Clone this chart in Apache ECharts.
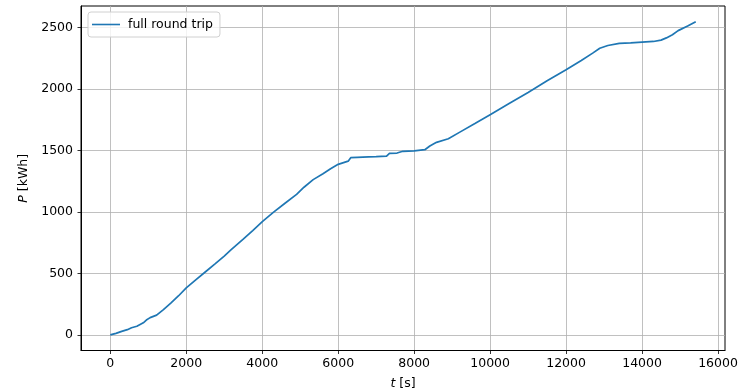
<!DOCTYPE html>
<html>
<head>
<meta charset="utf-8">
<script src="https://cdn.jsdelivr.net/npm/echarts@6/dist/echarts.min.js"></script>
<style>
  html, body { margin: 0; padding: 0; background: #fff; }
  #chart { width: 748px; height: 391px; }
</style>
</head>
<body>
<div id="chart"></div>
<script>
// Elapsed time [s] and cumulative energy [kWh] for the full round trip
const timeS = [
  0, 150, 300, 450, 560, 700, 870, 950, 1050, 1220,
  1400, 1600, 1800, 2000, 2250, 2500, 2750, 3000, 3176, 3500,
  3750, 4010, 4300, 4600, 4905, 5100, 5342, 5600, 5800, 6000,
  6263, 6330, 6500, 6800, 7000, 7274, 7350, 7550, 7700, 8000,
  8282, 8413, 8589, 8900, 9203, 9600, 10000, 10500, 11000, 11500,
  12000, 12400, 12700, 12887, 13100, 13400, 13700, 14000, 14300, 14500,
  14640, 14800, 14950, 15200, 15413
];
const energyKWh = [
  0, 12, 28, 42, 58, 70, 98, 120, 140, 160,
  205, 260, 318, 382, 447, 511, 575, 640, 690, 778,
  848, 922, 997, 1070, 1142, 1200, 1262, 1310, 1350, 1386,
  1412, 1440, 1443, 1446, 1448, 1453, 1475, 1478, 1492, 1496,
  1505, 1535, 1565, 1594, 1648, 1718, 1790, 1880, 1970, 2065,
  2155, 2230, 2290, 2330, 2352, 2370, 2374, 2380, 2385, 2396,
  2414, 2440, 2473, 2510, 2546
];
const xTicks = [0, 2000, 4000, 6000, 8000, 10000, 12000, 14000, 16000];
const yTicks = [0, 500, 1000, 1500, 2000, 2500];
const seriesName = 'full round trip';

const points = timeS.map((t, i) => [t, energyKWh[i]]);

// 5% padding around the data range on both axes
const xSpan = timeS[timeS.length - 1] - timeS[0];
const ySpan = Math.max(...energyKWh) - Math.min(...energyKWh);
const xMin = timeS[0] - 0.05 * xSpan, xMax = timeS[timeS.length - 1] + 0.05 * xSpan;
const yMin = Math.min(...energyKWh) - 0.05 * ySpan, yMax = Math.max(...energyKWh) + 0.05 * ySpan;

const FONT = 'DejaVu Sans';
const gridLine = { show: true, lineStyle: { color: '#b0b0b0', width: 0.8 } };
const plain = v => String(Math.round(v));

const chart = echarts.init(document.getElementById('chart'), null, { renderer: 'canvas' });
chart.setOption({
  animation: false,
  backgroundColor: '#fff',
  textStyle: { fontFamily: FONT },
  grid: {
    left: 81, right: 23, top: 6, bottom: 40.5,
    outerBoundsMode: 'none', containLabel: false,
    show: true, borderColor: '#000', borderWidth: 1, backgroundColor: 'transparent'
  },
  legend: {
    left: 88, top: 12,
    data: [{ name: seriesName, icon: 'rect' }],
    itemWidth: 28, itemHeight: 1.6, itemGap: 8,
    padding: [6, 7, 6, 4],
    borderColor: '#d0d0d0', borderWidth: 1, borderRadius: 3,
    backgroundColor: 'rgba(255,255,255,0.8)',
    textStyle: { fontFamily: FONT, fontSize: 12.5, color: '#000', padding: [0, 0, 0, 3] }
  },
  xAxis: {
    type: 'value', min: xMin, max: xMax,
    name: '{i|t} [s]', nameLocation: 'middle', nameGap: 27,
    nameTextStyle: { fontFamily: FONT, fontSize: 12.5, color: '#000', rich: { i: { fontStyle: 'italic', fontFamily: FONT, fontSize: 12.5 } } },
    axisLine: { show: true, onZero: false, lineStyle: { color: '#000', width: 1 } },
    axisTick: { show: true, length: 3.5, inside: false, customValues: xTicks, lineStyle: { color: '#000', width: 0.8 } },
    axisLabel: { customValues: xTicks, formatter: plain, margin: 7, fontFamily: FONT, fontSize: 12.5, color: '#000' },
    splitLine: gridLine
  },
  yAxis: {
    type: 'value', min: yMin, max: yMax,
    name: '{i|P} [kWh]', nameLocation: 'middle', nameGap: 33, nameRotate: 90,
    nameTextStyle: { fontFamily: FONT, fontSize: 12.5, color: '#000', rich: { i: { fontStyle: 'italic', fontFamily: FONT, fontSize: 12.5 } } },
    axisLine: { show: true, onZero: false, lineStyle: { color: '#000', width: 1 } },
    axisTick: { show: true, length: 3.5, inside: false, customValues: yTicks, lineStyle: { color: '#000', width: 0.8 } },
    axisLabel: { customValues: yTicks, formatter: plain, margin: 8, fontFamily: FONT, fontSize: 12.5, color: '#000' },
    splitLine: gridLine
  },
  series: [{
    name: seriesName,
    type: 'line',
    data: points,
    showSymbol: false,
    symbol: 'none',
    lineStyle: { color: '#1f77b4', width: 1.7 },
    itemStyle: { color: '#1f77b4' }
  }]
});
</script>
</body>
</html>
